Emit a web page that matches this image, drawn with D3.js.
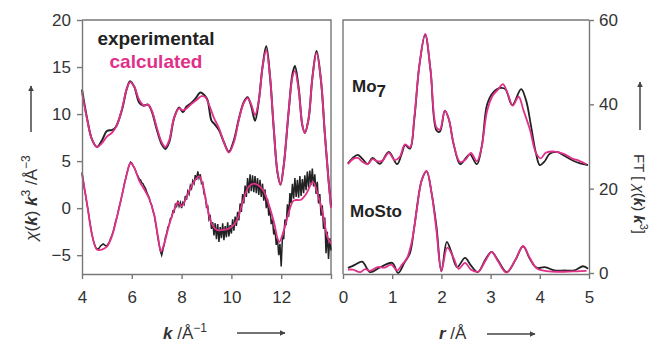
<!DOCTYPE html>
<html>
<head>
<meta charset="utf-8">
<script src="https://cdn.jsdelivr.net/npm/d3@7"></script>
<style>
  body { margin: 0; background: #fff; }
  svg { font-family: "Liberation Sans", Arial, sans-serif; }
  .axis path, .axis line { stroke: #777; stroke-width: 1.4; }
  .axis text { fill: #333; font-size: 17px; }
</style>
</head>
<body>
<div id="chart"></div>
<script>
// ---- k-space data (chi(k) k^3), upper = Mo7 (offset), lower = MoSto ----
var kCalcTop = [4.0, 4.2, 4.4, 4.6, 4.8, 5.0, 5.2, 5.4, 5.6, 5.8, 5.93, 6.1, 6.3, 6.5, 6.65, 6.8, 7.0, 7.2, 7.35, 7.5, 7.7, 7.9, 8.05, 8.2, 8.4, 8.6, 8.8, 8.95, 9.1, 9.3, 9.5, 9.7, 9.9, 10.1, 10.3, 10.5, 10.65, 10.8, 10.95, 11.1, 11.25, 11.4, 11.55, 11.7, 11.85, 11.97, 12.1, 12.3, 12.45, 12.55, 12.7, 12.85, 12.95, 13.1, 13.25, 13.42, 13.6, 13.75, 13.9, 14.0];
var calcTop = [12.3, 9.5, 7.3, 6.5, 6.9, 7.6, 8.0, 8.8, 10.5, 12.7, 13.4, 12.9, 11.5, 10.9, 11.0, 10.4, 8.6, 7.0, 6.5, 7.2, 9.6, 10.6, 10.4, 10.6, 11.1, 11.5, 11.9, 11.8, 11.0, 9.6, 8.5, 7.0, 5.9, 7.0, 9.4, 11.2, 11.7, 11.0, 9.9, 11.4, 15.0, 16.8, 14.0, 8.5, 3.8, 2.5, 4.5, 10.3, 13.9, 14.6, 12.6, 8.8, 8.0, 9.5, 13.8, 16.5, 13.5, 8.0, 3.0, 0.0];

var kExpTop = [4.0, 4.2, 4.4, 4.6, 4.8, 5.0, 5.2, 5.35, 5.6, 5.8, 5.93, 6.1, 6.3, 6.45, 6.65, 6.8, 7.0, 7.2, 7.35, 7.5, 7.7, 7.9, 8.05, 8.2, 8.4, 8.6, 8.75, 8.95, 9.05, 9.2, 9.3, 9.5, 9.7, 9.9, 10.1, 10.3, 10.5, 10.65, 10.8, 10.95, 11.1, 11.25, 11.4, 11.55, 11.7, 11.85, 11.97, 12.1, 12.3, 12.45, 12.55, 12.7, 12.85, 12.95, 13.1, 13.25, 13.42, 13.6, 13.75, 13.9, 14.0];
var expTop = [12.6, 9.6, 7.3, 6.5, 7.2, 8.2, 8.3, 8.6, 10.4, 12.7, 13.5, 12.9, 11.2, 10.9, 11.0, 10.3, 8.4, 6.8, 6.3, 7.0, 9.6, 10.7, 10.2, 10.8, 11.2, 11.8, 12.3, 11.9, 11.4, 9.3, 9.0, 8.3, 7.0, 6.0, 7.2, 9.5, 11.3, 11.8, 10.8, 9.3, 11.4, 15.0, 17.2, 14.0, 8.5, 3.8, 2.5, 4.5, 10.3, 14.2, 15.1, 12.8, 8.8, 8.0, 9.5, 13.8, 16.7, 13.5, 8.0, 3.0, 0.2];

var kCalcLow = [4.0, 4.2, 4.4, 4.6, 4.8, 5.0, 5.2, 5.4, 5.6, 5.8, 5.95, 6.1, 6.3, 6.5, 6.7, 6.9, 7.05, 7.17, 7.3, 7.5, 7.7, 7.85, 8.0, 8.2, 8.45, 8.7, 8.85, 9.0, 9.2, 9.4, 9.7, 9.95, 10.2, 10.45, 10.7, 10.9, 11.1, 11.3, 11.5, 11.7, 11.92, 12.1, 12.3, 12.5, 12.8, 13.0, 13.28, 13.45, 13.65, 13.85, 14.0];
var calcLow = [3.7, 0.5, -2.8, -4.4, -4.4, -4.1, -3.0, -1.0, 1.3, 3.6, 4.8, 4.3, 2.9, 2.0, 1.0, -0.7, -3.0, -4.6, -3.8, -1.8, -0.2, 0.6, 0.2, 1.2, 2.6, 3.4, 2.5, 0.5, -1.6, -2.3, -2.3, -2.1, -1.4, 0.6, 2.3, 2.6, 2.4, 1.8, 0.4, -1.4, -3.6, -2.4, -0.5, 0.8, 0.9, 1.5, 2.8, 1.6, -0.3, -3.0, -3.8];

// experimental MoSto trace, sampled every 0.05 from k = 4 to 14
var kExpLowStart = 4, kExpLowStep = 0.05;
var expLow = [3.8, 2.9, 2.0, 1.3, 0.4, -0.3, -1.2, -2.0, -2.8, -3.4, -3.8, -4.2, -4.3, -4.4, -4.2, -4.0, -3.9, -3.8, -3.9, -4.0,
  -4.0, -3.8, -3.6, -3.2, -2.9, -2.5, -2.0, -1.4, -1.0, -0.4, 0.2, 0.7, 1.3, 1.9, 2.6, 3.1, 3.7, 4.2, 4.6, 4.9,
  4.8, 4.5, 4.3, 4.0, 3.6, 3.4, 3.1, 3.0, 2.7, 2.6, 2.3, 2.1, 1.7, 1.4, 1.1, 0.6, 0.3, -0.3, -0.7, -1.5,
  -2.3, -3.2, -3.9, -4.6, -5.0, -4.4, -3.9, -3.1, -2.7, -2.0, -1.8, -1.1, -1.0, -0.3, -0.4, 0.4, 0.2, 0.8, 0.2, 0.6,
  0.0, 0.6, 0.4, 1.3, 0.9, 1.8, 1.5, 2.4, 2.1, 2.9, 2.6, 3.5, 3.0, 3.9, 3.2, 3.6, 2.6, 2.7, 1.5, 1.3,
  0.1, 0.2, -1.2, -0.9, -2.2, -1.5, -2.9, -1.6, -3.3, -1.7, -3.6, -2.0, -3.2, -1.6, -3.4, -1.9, -3.1, -1.5, -3.0, -1.8,
  -2.7, -1.2, -2.4, -0.9, -1.9, -0.4, -1.3, 0.5, -0.4, 1.5, 0.5, 2.4, 1.2, 3.2, 1.6, 3.6, 1.8, 3.5, 1.7, 3.4,
  1.6, 3.2, 1.4, 3.0, 1.2, 2.6, 0.8, 2.0, 0.0, 1.0, -0.8, 0.0, -1.7, -1.2, -2.8, -2.2, -3.9, -3.2, -5.0, -3.8,
  -6.2, -3.0, -3.3, -1.2, -1.8, 0.4, -0.9, 1.6, 0.5, 2.6, 1.0, 3.2, 1.2, 3.0, 1.1, 3.4, 1.3, 3.1, 1.6, 3.5,
  1.9, 3.9, 2.2, 4.0, 2.5, 4.2, 2.3, 3.6, 1.5, 2.8, 0.5, 1.5, -0.8, 0.3, -2.2, -1.0, -4.8, -2.5, -5.4, -3.2,
  -4.5];

// ---- r-space data (FT magnitude), upper = Mo7, lower = MoSto ----
var rCalcMo7 = [0.1, 0.2, 0.3, 0.4, 0.5, 0.6, 0.7, 0.8, 0.93, 1.05, 1.15, 1.26, 1.36, 1.45, 1.55, 1.67, 1.78, 1.9, 1.97, 2.07, 2.15, 2.25, 2.38, 2.5, 2.6, 2.72, 2.82, 2.93, 3.05, 3.15, 3.25, 3.35, 3.45, 3.57, 3.67, 3.8, 3.92, 4.02, 4.12, 4.3, 4.5, 4.65, 4.8, 4.95];
var calcMo7 = [25.8, 27.0, 27.3, 26.3, 25.8, 27.0, 26.5, 26.6, 28.5, 26.8, 27.5, 30.5, 29.8, 37, 49, 56.7, 48, 34.5, 34.0, 38.5, 36.5, 30.5, 26.3, 27.0, 28.5, 26.5, 30, 38.5, 42.2, 43.5, 44.8, 42.5, 39.7, 41.8, 38.5, 34, 28.5, 27.2, 28.5, 28.8, 28.2, 27.2, 26.6, 25.8];
var rExpMo7 = [0.1, 0.2, 0.3, 0.4, 0.5, 0.6, 0.75, 0.93, 1.1, 1.2, 1.26, 1.36, 1.45, 1.55, 1.67, 1.78, 1.9, 1.97, 2.07, 2.15, 2.25, 2.38, 2.5, 2.58, 2.72, 2.82, 2.93, 3.05, 3.2, 3.3, 3.44, 3.62, 3.72, 3.82, 3.92, 4.0, 4.1, 4.2, 4.35, 4.5, 4.65, 4.82, 4.98];
var expMo7 = [26.0, 27.3, 28.0, 27.0, 25.8, 27.3, 25.9, 28.7, 25.8, 28.5, 30.3, 29.5, 36.5, 49, 56.5, 48, 33.8, 33.5, 38.5, 36.5, 30.5, 25.8, 27.3, 28.2, 25.8, 30, 40, 42.8, 43.9, 43.6, 39.8, 43.6, 41, 35, 28.5, 25.6, 26.5, 28.3, 28.7, 27.8, 26.8, 26.0, 25.6];

var rCalcMoSto = [0.1, 0.2, 0.35, 0.45, 0.55, 0.7, 0.85, 0.98, 1.1, 1.2, 1.3, 1.4, 1.5, 1.6, 1.7, 1.8, 1.9, 2.0, 2.12, 2.25, 2.35, 2.48, 2.6, 2.75, 2.9, 3.02, 3.15, 3.32, 3.5, 3.66, 3.8, 3.95, 4.2, 4.5, 4.75, 4.95];
var calcMoSto = [0.8, 0.8, 0.2, 0.9, 0.5, 1.4, 1.3, 2.0, 0.6, 2.0, 3.5, 7.5, 15, 22, 24.2, 19, 10, 0.5, 6.0, 3.5, 1.0, 2.4, 0.8, 0.3, 3.0, 5.0, 2.8, 0.1, 3.0, 6.4, 3.5, 1.0, 0.4, 0.3, 0.4, 0.5];
var rExpMoSto = [0.1, 0.25, 0.39, 0.55, 0.75, 1.0, 1.12, 1.25, 1.36, 1.45, 1.6, 1.7, 1.8, 1.9, 2.0, 2.11, 2.2, 2.32, 2.48, 2.6, 2.74, 2.9, 3.02, 3.15, 3.33, 3.5, 3.66, 3.8, 3.94, 4.1, 4.3, 4.5, 4.7, 4.88, 4.98];
var expMoSto = [1.2, 2.0, 2.7, 0.2, 1.3, 2.4, 0.0, 2.5, 4.7, 11, 22, 24.1, 19, 11, 0.4, 7.4, 5.0, 1.4, 3.6, 1.8, 0.2, 3.3, 5.0, 3.0, 0.2, 3.0, 6.3, 3.3, 1.2, 1.4, 0.6, 0.6, 0.6, 1.6, 1.0];

var kTicks = [4, 6, 8, 10, 12, 14];
var chiTicks = [-5, 0, 5, 10, 15, 20];
var rTicks = [0, 1, 2, 3, 4, 5];
var ftTicks = [0, 20, 40, 60];

var black = '#222', pink = '#e0308a';

var svg = d3.select('#chart').append('svg')
  .attr('width', 652)
  .attr('height', 343);

svg.append('defs').append('marker')
  .attr('id', 'arr')
  .attr('viewBox', '0 0 10 10')
  .attr('refX', 9).attr('refY', 5)
  .attr('markerWidth', 6).attr('markerHeight', 6)
  .attr('markerUnits', 'userSpaceOnUse')
  .attr('orient', 'auto')
  .append('path').attr('d', 'M0,0 L10,5 L0,10 z').attr('fill', '#444');

function zip(xs, ys) { return xs.map(function(x, i) { return [x, ys[i]]; }); }

// ---------- left panel ----------
var kScale = d3.scaleLinear().domain([4, 14]).range([82, 331]);
var chiScale = d3.scaleLinear().domain([-7, 20]).range([274, 20]);

var left = svg.append('g');
// frame (top + right)
left.append('path')
  .attr('d', 'M' + kScale(4) + ',' + chiScale(20) + 'H' + kScale(14) + 'V' + chiScale(-7))
  .attr('fill', 'none').attr('stroke', '#777').attr('stroke-width', 1.4);

var smooth = d3.line()
  .x(function(d) { return kScale(d[0]); })
  .y(function(d) { return chiScale(d[1]); })
  .curve(d3.curveCatmullRom.alpha(0.5));
var raw = d3.line()
  .x(function(d) { return kScale(d[0]); })
  .y(function(d) { return chiScale(d[1]); });

var expLowPts = expLow.map(function(v, i) { return [kExpLowStart + i * kExpLowStep, v]; });

left.append('path').attr('d', raw(expLowPts)).attr('fill', 'none').attr('stroke', black).attr('stroke-width', 1.5);
left.append('path').attr('d', smooth(zip(kExpTop, expTop))).attr('fill', 'none').attr('stroke', black).attr('stroke-width', 2);
left.append('path').attr('d', smooth(zip(kCalcLow, calcLow))).attr('fill', 'none').attr('stroke', pink).attr('stroke-width', 1.8);
left.append('path').attr('d', smooth(zip(kCalcTop, calcTop))).attr('fill', 'none').attr('stroke', pink).attr('stroke-width', 1.8);

left.append('g').attr('class', 'axis')
  .attr('transform', 'translate(0,274)')
  .call(d3.axisBottom(kScale).tickValues(kTicks).tickSize(5).tickPadding(12).tickSizeOuter(0)
    .tickFormat(function(d) { return d === 14 ? '' : d; }));
left.append('g').attr('class', 'axis')
  .attr('transform', 'translate(82,0)')
  .call(d3.axisLeft(chiScale).tickValues(chiTicks).tickSize(5).tickPadding(6).tickSizeOuter(0));

// legend
svg.append('text').attr('x', 156).attr('y', 45).attr('text-anchor', 'middle')
  .attr('font-size', 19).attr('font-weight', 'bold').attr('fill', black).text('experimental');
svg.append('text').attr('x', 156).attr('y', 68).attr('text-anchor', 'middle')
  .attr('font-size', 19).attr('font-weight', 'bold').attr('fill', pink).text('calculated');

// ---------- right panel ----------
var rScale = d3.scaleLinear().domain([0, 5]).range([343, 589]);
var ftScale = d3.scaleLinear().domain([0, 60]).range([273, 20]);

var right = svg.append('g');
right.append('path')
  .attr('d', 'M' + rScale(0) + ',274V' + ftScale(60) + 'H' + rScale(5))
  .attr('fill', 'none').attr('stroke', '#777').attr('stroke-width', 1.4);

var rLine = d3.line()
  .x(function(d) { return rScale(d[0]); })
  .y(function(d) { return ftScale(d[1]); })
  .curve(d3.curveCatmullRom.alpha(0.5));

right.append('path').attr('d', rLine(zip(rExpMo7, expMo7))).attr('fill', 'none').attr('stroke', black).attr('stroke-width', 1.8);
right.append('path').attr('d', rLine(zip(rExpMoSto, expMoSto))).attr('fill', 'none').attr('stroke', black).attr('stroke-width', 1.8);
right.append('path').attr('d', rLine(zip(rCalcMo7, calcMo7))).attr('fill', 'none').attr('stroke', pink).attr('stroke-width', 1.8);
right.append('path').attr('d', rLine(zip(rCalcMoSto, calcMoSto))).attr('fill', 'none').attr('stroke', pink).attr('stroke-width', 1.8);

right.append('g').attr('class', 'axis')
  .attr('transform', 'translate(0,274)')
  .call(d3.axisBottom(rScale).tickValues(rTicks).tickSize(5).tickPadding(12).tickSizeOuter(0)
    .tickFormat(d3.format('d')));
right.append('g').attr('class', 'axis')
  .attr('transform', 'translate(' + rScale(5) + ',0)')
  .call(d3.axisRight(ftScale).tickValues(ftTicks).tickSize(5).tickPadding(5).tickSizeOuter(0)
    .tickFormat(d3.format('d')));

var mo7 = svg.append('text').attr('x', 352).attr('y', 92).attr('font-size', 17).attr('font-weight', 'bold').attr('fill', black);
mo7.append('tspan').text('Mo');
mo7.append('tspan').attr('dy', 5).text('7');
svg.append('text').attr('x', 350).attr('y', 217).attr('font-size', 17).attr('font-weight', 'bold').attr('fill', black).text('MoSto');

// ---------- axis titles ----------
var yl = svg.append('text').attr('transform', 'translate(37,198) rotate(-90)')
  .attr('text-anchor', 'middle').attr('font-size', 17).attr('fill', '#333');
yl.append('tspan').attr('font-style', 'italic').text('χ');
yl.append('tspan').text('(');
yl.append('tspan').attr('font-style', 'italic').attr('font-weight', 'bold').text('k');
yl.append('tspan').text(') ');
yl.append('tspan').attr('font-style', 'italic').attr('font-weight', 'bold').text('k');
yl.append('tspan').attr('dy', -7).attr('font-size', 12).text('3');
yl.append('tspan').attr('dy', 7).text(' /Å');
yl.append('tspan').attr('dy', -7).attr('font-size', 12).text('−3');
svg.append('line').attr('x1', 31).attr('y1', 132).attr('x2', 31).attr('y2', 86)
  .attr('stroke', '#444').attr('stroke-width', 1.5).attr('marker-end', 'url(#arr)');

var yr = svg.append('text').attr('transform', 'translate(634,194) rotate(90)')
  .attr('text-anchor', 'middle').attr('font-size', 15).attr('fill', '#333');
yr.append('tspan').text('FT [ ');
yr.append('tspan').attr('font-style', 'italic').text('χ');
yr.append('tspan').text('(');
yr.append('tspan').attr('font-style', 'italic').attr('font-weight', 'bold').text('k');
yr.append('tspan').text(') ');
yr.append('tspan').attr('font-style', 'italic').attr('font-weight', 'bold').text('k');
yr.append('tspan').attr('dy', -6).attr('font-size', 11).text('3');
yr.append('tspan').attr('dy', 6).text(']');
svg.append('line').attr('x1', 640).attr('y1', 130).attr('x2', 640).attr('y2', 82)
  .attr('stroke', '#444').attr('stroke-width', 1.5).attr('marker-end', 'url(#arr)');

var xl = svg.append('text').attr('x', 163).attr('y', 339).attr('font-size', 17).attr('fill', '#333');
xl.append('tspan').attr('font-style', 'italic').attr('font-weight', 'bold').text('k');
xl.append('tspan').text(' /Å');
xl.append('tspan').attr('dy', -7).attr('font-size', 12).text('−1');
svg.append('line').attr('x1', 237).attr('y1', 333).attr('x2', 285).attr('y2', 333)
  .attr('stroke', '#444').attr('stroke-width', 1.5).attr('marker-end', 'url(#arr)');

var rl = svg.append('text').attr('x', 439).attr('y', 339).attr('font-size', 17).attr('fill', '#333');
rl.append('tspan').attr('font-style', 'italic').attr('font-weight', 'bold').text('r');
rl.append('tspan').text(' /Å');
svg.append('line').attr('x1', 487).attr('y1', 334).attr('x2', 535).attr('y2', 334)
  .attr('stroke', '#444').attr('stroke-width', 1.5).attr('marker-end', 'url(#arr)');
</script>
</body>
</html>
